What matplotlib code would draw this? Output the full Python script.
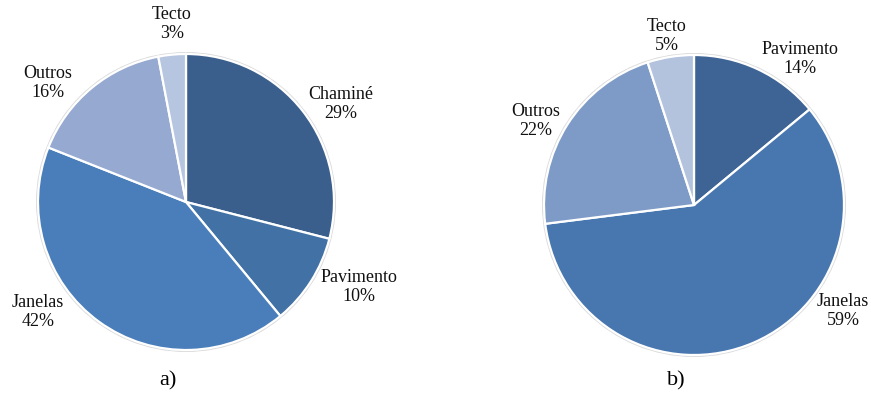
import numpy as np
import matplotlib
matplotlib.use('Agg')
import matplotlib.pyplot as plt
from matplotlib.patches import Circle

plt.rcParams['font.family'] = ['Liberation Serif', 'DejaVu Serif']

# Dados (percentagens)
labels_a = ['Chaminé', 'Pavimento', 'Janelas', 'Outros', 'Tecto']
values_a = [29, 10, 42, 16, 3]
colors_a = ['#3B5F8D', '#4171A5', '#4A7EBB', '#95A9D1', '#B7C6E0']

labels_b = ['Pavimento', 'Janelas', 'Outros', 'Tecto']
values_b = [14, 59, 22, 5]
colors_b = ['#3D6495', '#4877B0', '#7E9BC8', '#B3C3DE']

# Layout em pixels (figura 871x394)
W, H = 871, 394
centro_a, raio_a = (186, 202), 148
centro_b, raio_b = (694, 205), 150
pos_a = [(341, 104), (359, 287), (38, 312), (48, 83), (172, 24)]
pos_b = [(800, 59), (843, 311), (536, 121), (667, 36)]

fig = plt.figure(figsize=(W / 100, H / 100), dpi=100)
ax = fig.add_axes([0, 0, 1, 1])


def desenha_pie(valores, cores, nomes, centro, raio, posicoes, letra):
    cx, cy = centro[0], H - centro[1]
    # contorno cinzento leve (sombra)
    ax.add_patch(Circle((cx, cy), raio + 1, facecolor='none', edgecolor='#DADADA', lw=1.4, zorder=1))
    ax.pie(valores, colors=cores, startangle=90, counterclock=False,
           center=(cx, cy), radius=raio, frame=True,
           wedgeprops=dict(edgecolor='white', linewidth=1.6, zorder=2))
    for nome, v, (px, py) in zip(nomes, valores, posicoes):
        ax.text(px, H - py, f'{nome}\n{v}%', ha='center', va='center',
                fontsize=13, linespacing=1.12, color='#111111', zorder=5)
    ax.text(cx - 18, H - 381, letra, ha='center', va='center', fontsize=16)


desenha_pie(values_a, colors_a, labels_a, centro_a, raio_a, pos_a, 'a)')
desenha_pie(values_b, colors_b, labels_b, centro_b, raio_b, pos_b, 'b)')

ax.set_xlim(0, W)
ax.set_ylim(0, H)
ax.set_aspect('equal')
ax.axis('off')

fig.savefig('out.png', dpi=100)
